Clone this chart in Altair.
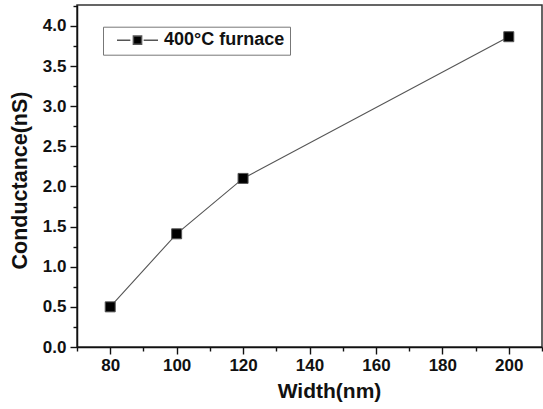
import altair as alt
import pandas as pd

# ---- data ----
widths = [80, 100, 120, 200]
conductance = [0.50, 1.41, 2.10, 3.865]
series_name = "400°C furnace"

x_major = [80, 100, 120, 140, 160, 180, 200]
x_minor = [70, 90, 110, 130, 150, 170, 190, 210]
y_major = [0.0, 0.5, 1.0, 1.5, 2.0, 2.5, 3.0, 3.5, 4.0]
y_minor = [0.25, 0.75, 1.25, 1.75, 2.25, 2.75, 3.25, 3.75, 4.25]

df = pd.DataFrame({"Width": widths, "Conductance": conductance,
                   "series": [series_name] * len(widths)})

FONT = "Liberation Sans"
xscale = alt.Scale(domain=[70, 210], nice=False, zero=False)
yscale = alt.Scale(domain=[0, 4.26], nice=False, zero=False)

common_axis = dict(grid=False, labelFont=FONT, labelFontSize=17, labelFontWeight="bold",
                   labelColor="#111", tickColor="#111", tickWidth=1.4,
                   domainColor="#111", domainWidth=1.5,
                   titleFont=FONT, titleFontWeight="bold", titleColor="#111")

x_axis_major = alt.Axis(values=x_major, orient="bottom", title="Width(nm)", tickSize=7,
                        labelPadding=3, titleX=252, titleY=44, titleBaseline="middle",
                        titleAlign="center", titleFontSize=21, **common_axis)
y_axis_major = alt.Axis(values=y_major, orient="left", title="Conductance(nS)", format=".1f",
                        tickSize=7, labelPadding=4, titleX=-57, titleY=175, titleAngle=270,
                        titleBaseline="middle", titleAlign="center", titleFontSize=21.5,
                        **common_axis)

minor_axis = dict(grid=False, labels=False, title=None, domain=False, tickSize=4,
                  tickColor="#111", tickWidth=1.4)
x_axis_minor = alt.Axis(values=x_minor, orient="bottom", **minor_axis)
y_axis_minor = alt.Axis(values=y_minor, orient="left", **minor_axis)

legend_path = "M-1,0H-0.35M0.3,0H1M-0.2,-0.2H0.2V0.2H-0.2Z"

legend_opts = dict(orient="none", legendX=26, legendY=21.7, title=None,
                   symbolType=legend_path, symbolSize=1681, clipHeight=17,
                   padding=5, symbolOffset=8, labelOffset=5,
                   strokeColor="#777", fillColor="white",
                   labelFont=FONT, labelFontSize=18, labelFontWeight="bold",
                   labelColor="#111")

line = alt.Chart(df).mark_line(color="#555", strokeWidth=1.1).encode(
    x=alt.X("Width:Q", scale=xscale, axis=x_axis_major),
    y=alt.Y("Conductance:Q", scale=yscale, axis=y_axis_major),
)

points = alt.Chart(df).mark_point(shape="square", filled=True, size=100, opacity=1,
                                  strokeWidth=1).encode(
    x=alt.X("Width:Q", scale=xscale, axis=x_axis_minor),
    y=alt.Y("Conductance:Q", scale=yscale, axis=y_axis_minor),
    fill=alt.Fill("series:N", scale=alt.Scale(range=["black"]),
                  legend=alt.Legend(**legend_opts)),
    stroke=alt.Stroke("series:N", scale=alt.Scale(range=["#555"]),
                      legend=alt.Legend(**legend_opts)),
)

chart = alt.layer(line, points).resolve_axis(x="independent", y="independent").properties(
    width=465, height=342, autosize="none",
    padding={"left": 77, "top": 5, "right": 1, "bottom": 62},
    background="white",
).configure_view(stroke="#333", strokeWidth=1.5)

chart.save("out.html", embed_options={"renderer": "svg", "actions": False})
